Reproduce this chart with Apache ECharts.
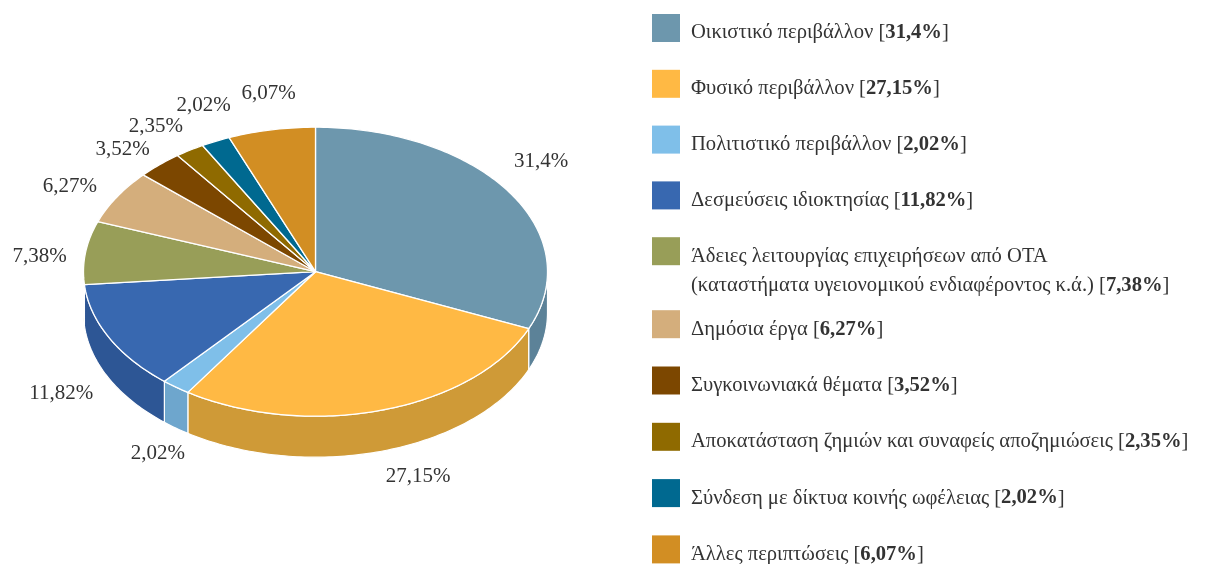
<!DOCTYPE html>
<html>
<head>
<meta charset="utf-8">
<script src="https://cdn.jsdelivr.net/npm/echarts@6/dist/echarts.min.js"></script>
</head>
<body style="margin:0;background:#fff;">
<div id="main" style="width: 1206px;height:564px;"></div>
<script type="text/javascript">
    // values as printed on the chart (%)
    var categories = [
        'Οικιστικό περιβάλλον',
        'Φυσικό περιβάλλον',
        'Πολιτιστικό περιβάλλον',
        'Δεσμεύσεις ιδιοκτησίας',
        'Άδειες λειτουργίας επιχειρήσεων από ΟΤΑ\n(καταστήματα υγειονομικού ενδιαφέροντος κ.ά.)',
        'Δημόσια έργα',
        'Συγκοινωνιακά θέματα',
        'Αποκατάσταση ζημιών και συναφείς αποζημιώσεις',
        'Σύνδεση με δίκτυα κοινής ωφέλειας',
        'Άλλες περιπτώσεις'
    ];
    var shares = [31.4, 27.15, 2.02, 11.82, 7.38, 6.27, 3.52, 2.35, 2.02, 6.07];

    var topColors = ['#6d97ad', '#ffb944', '#7fbfe9', '#3868b0', '#989e58', '#d4ae7c', '#7c4700', '#8f6a00', '#006990', '#d28e23'];
    var wallColors = ['#5c8298', '#cf9a37', '#6ea6cd', '#2d5695', '#7f8549', '#b59468', '#643900', '#755600', '#00536f', '#ad751c'];

    // the 3d view of the original pushes the slice edges round a little on the left side (degrees)
    var edgeDrift = [0.2, 2.6, 2.6, 4.3, 3.1, 2.3, 1.1, 0, 0, 0];
    // label position relative to the rim point of each slice
    var labelNudge = [[32, -31], [36, 66], [-18, 66], [-48, 56], [-46, 4], [-47, -10], [-37, -15], [-34, -24], [-12, -36], [-3, -36]];

    var cx = 315.5, cy = 271.7, rx = 232, ry = 144.5, depth = 41;
    var fontName = '"Liberation Serif", serif';
    var textColor = '#333333';

    function fmt(v) {
        return String(v).replace('.', ',') + '%';
    }

    function rim(deg, drop) {
        var a = deg * Math.PI / 180;
        return [cx + rx * Math.sin(a), cy - ry * Math.cos(a) + (drop || 0)];
    }

    function arc(from, to, drop) {
        var pts = [];
        var n = Math.max(2, Math.ceil(Math.abs(to - from)));
        for (var i = 0; i <= n; i++) {
            pts.push(rim(from + (to - from) * i / n, drop));
        }
        return pts;
    }

    // start and end angle of each slice
    var sliceData = [];
    var cum = 0;
    for (var i = 0; i < shares.length; i++) {
        var start = i === 0 ? 0 : sliceData[i - 1][1];
        cum += shares[i];
        var end = cum * 3.6 + edgeDrift[i];
        sliceData.push([start, end, shares[i]]);
    }

    // walls are only seen on the front half
    function renderWall(params, api) {
        var from = Math.max(api.value(0), 90);
        var to = Math.min(api.value(1), 270);
        if (to <= from) {
            return null;
        }
        var pts = arc(from, to, 0).concat(arc(to, from, depth));
        return {
            type: 'polygon',
            shape: {points: pts},
            style: {fill: wallColors[params.dataIndex], stroke: '#fff', lineWidth: 1.2}
        };
    }

    function renderTop(params, api) {
        var pts = [[cx, cy]].concat(arc(api.value(0), api.value(1), 0));
        return {
            type: 'polygon',
            shape: {points: pts},
            style: {fill: topColors[params.dataIndex], stroke: '#fff', lineWidth: 1.3, lineJoin: 'round'}
        };
    }

    function renderLabel(params, api) {
        var p = rim((api.value(0) + api.value(1)) / 2);
        var n = labelNudge[params.dataIndex];
        return {
            type: 'text',
            x: p[0] + n[0],
            y: p[1] + n[1],
            style: {
                text: fmt(api.value(2)),
                fill: textColor,
                font: '21px ' + fontName,
                align: 'center',
                verticalAlign: 'middle'
            }
        };
    }

    // legend on the right, built from the same arrays
    var legendItems = [];
    var rowY = 14;
    categories.forEach(function (name, i) {
        var lines = name.split('\n');
        legendItems.push({
            type: 'rect',
            left: 652,
            top: rowY,
            shape: {width: 28, height: 28},
            style: {fill: topColors[i]}
        });
        var last = lines.length - 1;
        var txt = lines.map(function (l, k) {
            return k === last ? l + ' [{b|' + fmt(shares[i]) + '}]' : l;
        }).join('\n');
        legendItems.push({
            type: 'text',
            left: 691,
            top: rowY + 4.5,
            style: {
                text: txt,
                fill: textColor,
                font: '20.6px ' + fontName,
                lineHeight: 29,
                rich: {
                    b: {font: 'bold 20.6px ' + fontName, fill: textColor, lineHeight: 29}
                }
            }
        });
        rowY += lines.length > 1 ? 73 : (i < 4 ? 55.8 : 56.3);
    });

    var myChart = echarts.init(document.getElementById('main'));

    var option = {
        animation: false,
        backgroundColor: '#fff',
        graphic: {elements: legendItems},
        series: [
            {type: 'custom', coordinateSystem: 'none', renderItem: renderWall, data: sliceData, z: 1, silent: true},
            {type: 'custom', coordinateSystem: 'none', renderItem: renderTop, data: sliceData, z: 2, silent: true},
            {type: 'custom', coordinateSystem: 'none', renderItem: renderLabel, data: sliceData, z: 3, silent: true}
        ]
    };
    myChart.setOption(option);
</script>
</body>
</html>
